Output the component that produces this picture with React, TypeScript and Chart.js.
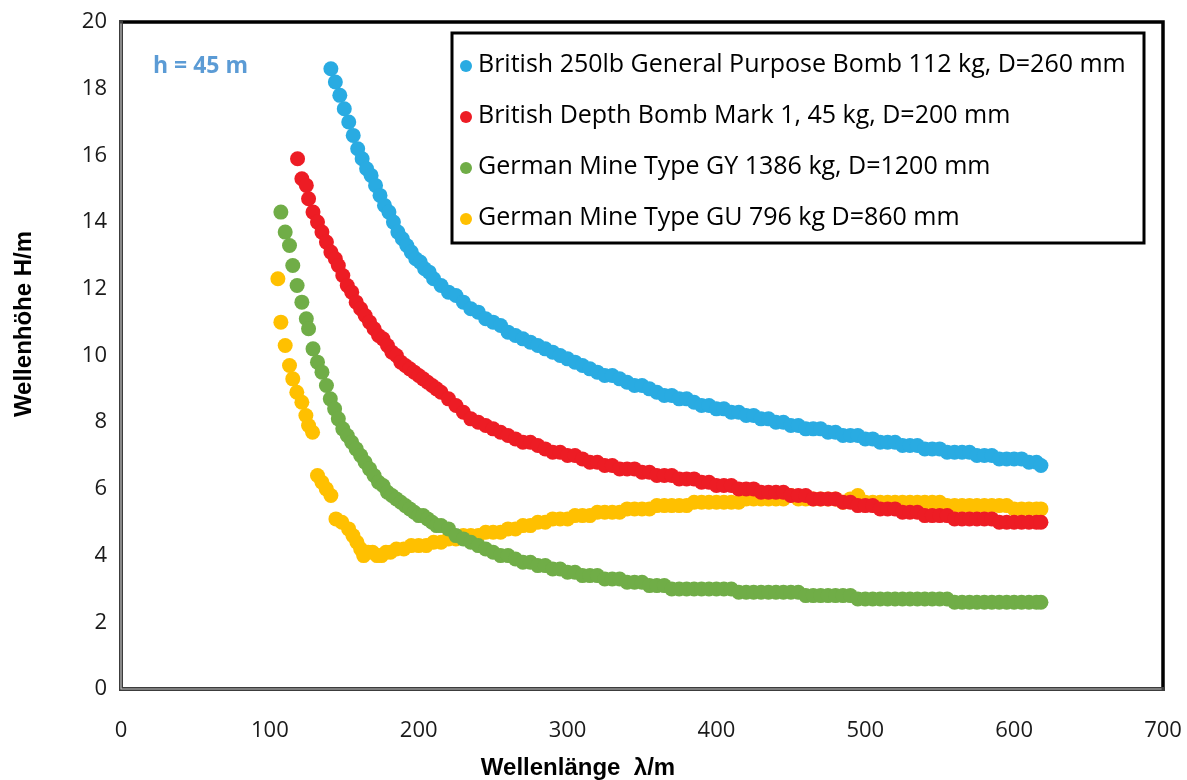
import React, { useEffect, useRef } from "react";
import { Chart, registerables } from "chart.js";

Chart.register(...registerables);

// ---- data ----
const xTickValues = [0, 100, 200, 300, 400, 500, 600, 700];
const yTickValues = [0, 2, 4, 6, 8, 10, 12, 14, 16, 18, 20];

const seriesLabels = [
  "British 250lb General Purpose Bomb 112 kg, D=260 mm",
  "British Depth Bomb Mark 1, 45 kg, D=200 mm",
  "German Mine Type GY 1386 kg, D=1200 mm",
  "German Mine Type GU 796 kg D=860 mm",
];
const seriesColors = ["#29ABE2", "#ED1C24", "#70AD47", "#FFC000"];

const blueSeries: [number, number][] = [
  [141, 18.6], [144, 18.2], [147, 17.8], [150, 17.4], [153, 17.0], [156, 16.6], [159, 16.2], [162, 15.9],
  [165, 15.6], [168, 15.4], [171, 15.1], [174, 14.8], [177, 14.5], [180, 14.3], [183, 14.0], [186, 13.7],
  [189, 13.5], [192, 13.3], [195, 13.1], [198, 12.9], [201, 12.8], [204, 12.6], [207, 12.5], [210, 12.3],
  [215, 12.1], [220, 11.9], [225, 11.8], [230, 11.6], [235, 11.4], [240, 11.3], [245, 11.1], [250, 11.0],
  [255, 10.9], [260, 10.7], [265, 10.6], [270, 10.5], [275, 10.4], [280, 10.3], [285, 10.2], [290, 10.1],
  [295, 10.0], [300, 9.9], [305, 9.8], [310, 9.7], [315, 9.6], [320, 9.5], [325, 9.4], [330, 9.4],
  [335, 9.3], [340, 9.2], [345, 9.1], [350, 9.1], [355, 9.0], [360, 8.9], [365, 8.8], [370, 8.8],
  [375, 8.7], [380, 8.7], [385, 8.6], [390, 8.5], [395, 8.5], [400, 8.4], [405, 8.4], [410, 8.3],
  [415, 8.3], [420, 8.2], [425, 8.2], [430, 8.1], [435, 8.1], [440, 8.0], [445, 8.0], [450, 7.9],
  [455, 7.9], [460, 7.8], [465, 7.8], [470, 7.8], [475, 7.7], [480, 7.7], [485, 7.6], [490, 7.6],
  [495, 7.6], [500, 7.5], [505, 7.5], [510, 7.4], [515, 7.4], [520, 7.4], [525, 7.3], [530, 7.3],
  [535, 7.3], [540, 7.2], [545, 7.2], [550, 7.2], [555, 7.1], [560, 7.1], [565, 7.1], [570, 7.1],
  [575, 7.0], [580, 7.0], [585, 7.0], [590, 6.9], [595, 6.9], [600, 6.9], [605, 6.9], [610, 6.8],
  [615, 6.8], [618, 6.7],
];

const redSeries: [number, number][] = [
  [118.6, 15.9], [121.5, 15.3], [124.5, 15.1], [126, 14.7], [129, 14.3], [132, 14.0], [135, 13.7], [138, 13.4],
  [141, 13.1], [144, 12.9], [146, 12.7], [149, 12.4], [152, 12.1], [155, 11.9], [158, 11.6], [161, 11.4],
  [164, 11.2], [167, 11.0], [170, 10.8], [173, 10.6], [176, 10.5], [179, 10.3], [182, 10.1], [185, 10.0],
  [188, 9.8], [191, 9.7], [194, 9.6], [197, 9.5], [200, 9.4], [203, 9.3], [206, 9.2], [209, 9.1],
  [212, 9.0], [215, 8.9], [220, 8.7], [225, 8.5], [230, 8.3], [235, 8.1], [240, 8.0], [245, 7.9],
  [250, 7.8], [255, 7.7], [260, 7.6], [265, 7.5], [270, 7.4], [275, 7.4], [280, 7.3], [285, 7.2],
  [290, 7.1], [295, 7.1], [300, 7.0], [305, 7.0], [310, 6.9], [315, 6.8], [320, 6.8], [325, 6.7],
  [330, 6.7], [335, 6.6], [340, 6.6], [345, 6.6], [350, 6.5], [355, 6.5], [360, 6.4], [365, 6.4],
  [370, 6.4], [375, 6.3], [380, 6.3], [385, 6.3], [390, 6.2], [395, 6.2], [400, 6.1], [405, 6.1],
  [410, 6.1], [415, 6.0], [420, 6.0], [425, 6.0], [430, 5.9], [435, 5.9], [440, 5.9], [445, 5.9],
  [450, 5.8], [455, 5.8], [460, 5.8], [465, 5.7], [470, 5.7], [475, 5.7], [480, 5.7], [485, 5.6],
  [490, 5.6], [495, 5.5], [500, 5.5], [505, 5.5], [510, 5.4], [515, 5.4], [520, 5.4], [525, 5.3],
  [530, 5.3], [535, 5.3], [540, 5.2], [545, 5.2], [550, 5.2], [555, 5.2], [560, 5.1], [565, 5.1],
  [570, 5.1], [575, 5.1], [580, 5.1], [585, 5.1], [590, 5.0], [595, 5.0], [600, 5.0], [605, 5.0],
  [610, 5.0], [615, 5.0], [618, 5.0],
];

const greenSeries: [number, number][] = [
  [107.4, 14.3], [110.3, 13.7], [113.2, 13.3], [115.4, 12.7], [118.3, 12.1], [121.5, 11.6], [124.5, 11.1], [126, 10.8],
  [129, 10.2], [132, 9.8], [135, 9.5], [138, 9.1], [140.6, 8.7], [143.5, 8.4], [146, 8.1], [149, 7.8],
  [152, 7.6], [155, 7.4], [158, 7.2], [161, 7.0], [164, 6.8], [167, 6.6], [170, 6.4], [173, 6.2],
  [176, 6.1], [179, 5.9], [182, 5.8], [185, 5.7], [188, 5.6], [191, 5.5], [194, 5.4], [197, 5.3],
  [200, 5.2], [203, 5.2], [206, 5.1], [209, 5.0], [212, 4.9], [215, 4.9], [220, 4.8], [225, 4.6],
  [230, 4.5], [235, 4.4], [240, 4.3], [245, 4.2], [250, 4.1], [255, 4.0], [260, 4.0], [265, 3.9],
  [270, 3.8], [275, 3.8], [280, 3.7], [285, 3.7], [290, 3.6], [295, 3.6], [300, 3.5], [305, 3.5],
  [310, 3.4], [315, 3.4], [320, 3.4], [325, 3.3], [330, 3.3], [335, 3.3], [340, 3.2], [345, 3.2],
  [350, 3.2], [355, 3.1], [360, 3.1], [365, 3.1], [370, 3.0], [375, 3.0], [380, 3.0], [385, 3.0],
  [390, 3.0], [395, 3.0], [400, 3.0], [405, 3.0], [410, 3.0], [415, 2.9], [420, 2.9], [425, 2.9],
  [430, 2.9], [435, 2.9], [440, 2.9], [445, 2.9], [450, 2.9], [455, 2.9], [460, 2.8], [465, 2.8],
  [470, 2.8], [475, 2.8], [480, 2.8], [485, 2.8], [490, 2.8], [495, 2.7], [500, 2.7], [505, 2.7],
  [510, 2.7], [515, 2.7], [520, 2.7], [525, 2.7], [530, 2.7], [535, 2.7], [540, 2.7], [545, 2.7],
  [550, 2.7], [555, 2.7], [560, 2.6], [565, 2.6], [570, 2.6], [575, 2.6], [580, 2.6], [585, 2.6],
  [590, 2.6], [595, 2.6], [600, 2.6], [605, 2.6], [610, 2.6], [615, 2.6], [618, 2.6],
];

const yellowSeries: [number, number][] = [
  [105.4, 12.3], [107.4, 11.0], [110.3, 10.3], [113.2, 9.7], [115.4, 9.3], [118.1, 8.9], [121.5, 8.6], [124.2, 8.2],
  [126, 7.9], [128.7, 7.7], [132, 6.4], [135, 6.2], [137.9, 6.0], [141, 5.8], [144.4, 5.1], [148.4, 5.0],
  [152.9, 4.8], [155.8, 4.6], [158.5, 4.4], [161, 4.2], [163, 4.0], [166, 4.1], [169, 4.1], [172, 4.0],
  [175, 4.0], [178, 4.1], [181, 4.1], [185, 4.2], [190, 4.2], [195, 4.3], [200, 4.3], [205, 4.3],
  [210, 4.4], [215, 4.4], [220, 4.5], [225, 4.5], [230, 4.6], [235, 4.6], [240, 4.6], [245, 4.7],
  [250, 4.7], [255, 4.7], [260, 4.8], [265, 4.8], [270, 4.9], [275, 4.9], [280, 5.0], [285, 5.0],
  [290, 5.1], [295, 5.1], [300, 5.1], [305, 5.2], [310, 5.2], [315, 5.2], [320, 5.3], [325, 5.3],
  [330, 5.3], [335, 5.3], [340, 5.4], [345, 5.4], [350, 5.4], [355, 5.4], [360, 5.5], [365, 5.5],
  [370, 5.5], [375, 5.5], [380, 5.5], [385, 5.6], [390, 5.6], [395, 5.6], [400, 5.6], [405, 5.6],
  [410, 5.6], [415, 5.6], [420, 5.7], [425, 5.7], [430, 5.7], [435, 5.7], [440, 5.7], [445, 5.7],
  [450, 5.8], [455, 5.7], [460, 5.7], [465, 5.7], [470, 5.7], [475, 5.7], [480, 5.7], [485, 5.6],
  [490, 5.7], [495, 5.8], [500, 5.6], [505, 5.6], [510, 5.6], [515, 5.6], [520, 5.6], [525, 5.6],
  [530, 5.6], [535, 5.6], [540, 5.6], [545, 5.6], [550, 5.6], [555, 5.5], [560, 5.5], [565, 5.5],
  [570, 5.5], [575, 5.5], [580, 5.5], [585, 5.5], [590, 5.5], [595, 5.5], [600, 5.4], [605, 5.4],
  [610, 5.4], [615, 5.4], [618, 5.4],
];

const allSeries = [blueSeries, redSeries, greenSeries, yellowSeries];

const annotationText = "h = 45 m";
const xTitle = "Wellenlänge  λ/m";
const yTitle = "Wellenhöhe H/m";

// ---- decorations plugin ----
const decorPlugin = {
  id: "decor",
  afterDraw(chart: any) {
    const { ctx, chartArea: ca } = chart;
    ctx.save();

    // plot frame: left/bottom double line, top/right solid black
    ctx.lineCap = "square";
    ctx.strokeStyle = "#000";
    ctx.lineWidth = 3.5;
    ctx.beginPath();
    ctx.moveTo(ca.left, ca.top);
    ctx.lineTo(ca.right, ca.top);
    ctx.lineTo(ca.right, ca.bottom);
    ctx.stroke();

    ctx.strokeStyle = "#3c3c3c";
    ctx.lineWidth = 4;
    ctx.beginPath();
    ctx.moveTo(ca.left, ca.top);
    ctx.lineTo(ca.left, ca.bottom);
    ctx.lineTo(ca.right, ca.bottom);
    ctx.stroke();
    ctx.strokeStyle = "#bdbdbd";
    ctx.lineWidth = 1.2;
    ctx.beginPath();
    ctx.moveTo(ca.left, ca.top + 2);
    ctx.lineTo(ca.left, ca.bottom);
    ctx.lineTo(ca.right - 2, ca.bottom);
    ctx.stroke();

    // annotation
    ctx.fillStyle = "#5B9BD5";
    ctx.font = "bold 23px 'Open Sans'";
    ctx.textAlign = "left";
    ctx.textBaseline = "middle";
    ctx.fillText(annotationText, 153, 66);

    // legend box
    const lx = 452, ly = 33, lw = 692, lh = 210;
    ctx.fillStyle = "#fff";
    ctx.fillRect(lx, ly, lw, lh);
    ctx.strokeStyle = "#000";
    ctx.lineWidth = 3;
    ctx.strokeRect(lx, ly, lw, lh);
    ctx.font = "25px 'Open Sans'";
    chart.data.datasets.forEach((ds: any, i: number) => {
      const cy = 65 + i * 51;
      ctx.fillStyle = ds.backgroundColor;
      ctx.beginPath();
      ctx.arc(466, cy + 1, 6, 0, Math.PI * 2);
      ctx.fill();
      ctx.fillStyle = "#000";
      ctx.fillText(ds.label, 478, cy);
    });

    // axis titles
    ctx.fillStyle = "#000";
    ctx.font = "bold 24px 'Liberation Sans'";
    ctx.textAlign = "center";
    ctx.fillText(xTitle, 578, 768);
    ctx.save();
    ctx.translate(24, 324);
    ctx.rotate(-Math.PI / 2);
    ctx.fillText(yTitle, 0, 0);
    ctx.restore();

    ctx.restore();
  },
};

export default function App() {
  const canvasRef = useRef<HTMLCanvasElement | null>(null);

  useEffect(() => {
    if (!canvasRef.current) return;
    const chart = new Chart(canvasRef.current, {
      type: "scatter",
      data: {
        datasets: allSeries.map((s, i) => ({
          label: seriesLabels[i],
          data: s.map(([x, y]) => ({ x, y })),
          backgroundColor: seriesColors[i],
          borderColor: seriesColors[i],
          borderWidth: 0,
          pointRadius: 7.5,
          pointHoverRadius: 7.5,
          showLine: false,
        })),
      },
      options: {
        responsive: false,
        animation: false,
        devicePixelRatio: 1,
        layout: { padding: { left: 0, top: 22, right: 24, bottom: 0 } },
        plugins: {
          legend: { display: false },
          tooltip: { enabled: false },
        },
        scales: {
          x: {
            type: "linear",
            min: 0,
            max: 700,
            afterFit: (s: any) => {
              s.height = 91;
              s.paddingLeft = 0;
              s.paddingRight = 0;
            },
            afterBuildTicks: (s: any) => {
              s.ticks = xTickValues.map((v) => ({ value: v }));
            },
            grid: { display: false, drawTicks: false },
            border: { display: false },
            ticks: {
              padding: 29,
              color: "#1a1a1a",
              font: { family: "'Open Sans'", size: 22 },
              maxRotation: 0,
            },
          },
          y: {
            type: "linear",
            min: 0,
            max: 20,
            afterFit: (s: any) => {
              s.width = 121;
              s.paddingTop = 0;
              s.paddingBottom = 0;
            },
            afterBuildTicks: (s: any) => {
              s.ticks = yTickValues.map((v) => ({ value: v }));
            },
            grid: { display: false, drawTicks: false },
            border: { display: false },
            ticks: {
              padding: 14,
              color: "#1a1a1a",
              font: { family: "'Open Sans'", size: 22 },
            },
          },
        },
      },
      plugins: [decorPlugin],
    });
    return () => chart.destroy();
  }, []);

  return (
    <div style={{ position: "fixed", left: 0, top: 0, width: 1187, height: 780, background: "#fff" }}>
      <canvas ref={canvasRef} width={1187} height={780} style={{ display: "block" }} />
    </div>
  );
}
